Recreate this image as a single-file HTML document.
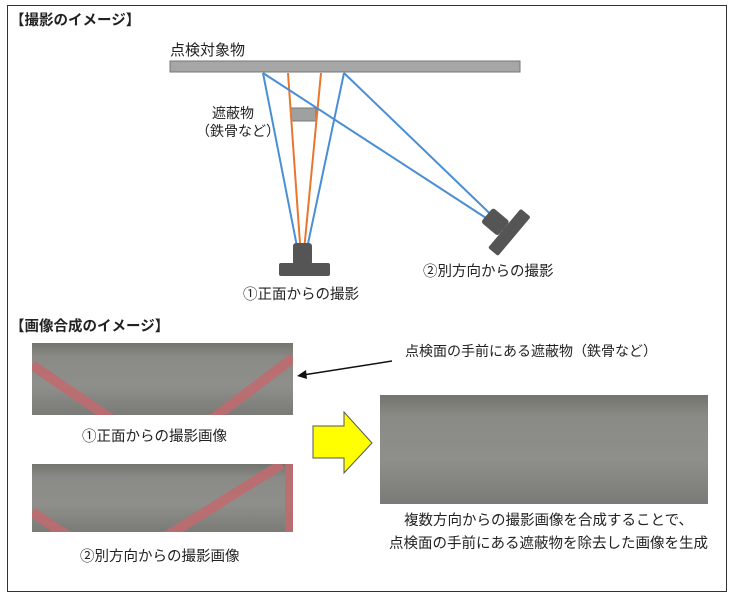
<!DOCTYPE html>
<html><head><meta charset="utf-8"><style>
body{margin:0;width:730px;height:597px;background:#fff;position:relative;overflow:hidden;font-family:"Liberation Sans","Noto Sans CJK JP",sans-serif;color:#222}
.t{position:absolute;white-space:nowrap;font-size:14px}
.ph{position:absolute;background:linear-gradient(180deg,#74746f 0%,#8a8a86 20%,#8e8e8a 60%,#7a7a76 100%);overflow:hidden}
</style></head><body>
<div style="position:absolute;left:7px;top:5px;width:718px;height:585px;border:1.5px solid #333"></div>
<div class="t" style="left:10px;top:9px;font-weight:bold;font-size:14.5px">【撮影のイメージ】</div>
<div class="t" style="left:170px;top:39px;font-size:15px">点検対象物</div>
<div class="t" style="left:212px;top:103px">遮蔽物</div>
<div class="t" style="left:196px;top:121px">（鉄骨など）</div>
<div class="t" style="left:243px;top:283px;font-size:14.5px">①正面からの撮影</div>
<div class="t" style="left:423px;top:260px;font-size:14.5px">②別方向からの撮影</div>
<svg style="position:absolute;left:0;top:0" width="730" height="320">
<rect x="170" y="61" width="350" height="11" fill="#a6a6a6" stroke="#777"/>
<rect x="291" y="108" width="25" height="13" fill="#a0a0a0" stroke="#777"/>
<g stroke-width="2" fill="none">
<line x1="288" y1="73" x2="302" y2="272" stroke="#e8772e"/>
<line x1="321" y1="73" x2="302" y2="272" stroke="#e8772e"/>
<line x1="263" y1="73" x2="302" y2="272" stroke="#4a8fd4"/>
<line x1="344" y1="73" x2="302" y2="272" stroke="#4a8fd4"/>
<line x1="263" y1="73" x2="506" y2="231" stroke="#4a8fd4"/>
<line x1="344" y1="73" x2="508" y2="231" stroke="#4a8fd4"/>
</g>
<rect x="293" y="243" width="19" height="22" rx="3" fill="#555"/>
<rect x="279" y="263" width="51" height="13" rx="2" fill="#555"/>
<g transform="translate(501,226) rotate(-50)">
<rect x="-10" y="-18" width="19" height="22" rx="3" fill="#555"/>
<rect x="-25" y="4" width="51" height="13" rx="2" fill="#555"/>
</g>
</svg>
<div class="t" style="left:10px;top:315px;font-weight:bold;font-size:14.5px">【画像合成のイメージ】</div>
<div class="t" style="left:405px;top:341px">点検面の手前にある遮蔽物（鉄骨など）</div>
<div class="ph" style="left:32px;top:343px;width:261px;height:72px">
<svg width="261" height="72" style="position:absolute;left:0;top:0"><g stroke="#c26a6f" stroke-width="10" opacity=".85"><line x1="0" y1="22" x2="85" y2="80"/><line x1="261" y1="15" x2="175" y2="80"/></g></svg></div>
<div class="t" style="left:82px;top:425px;font-size:14.5px">①正面からの撮影画像</div>
<div class="ph" style="left:32px;top:464px;width:261px;height:68px">
<svg width="261" height="68" style="position:absolute;left:0;top:0"><g stroke="#c26a6f" stroke-width="10" opacity=".85"><line x1="0" y1="48" x2="40" y2="75"/><line x1="250" y1="0" x2="130" y2="75"/><line x1="258" y1="0" x2="258" y2="68"/></g></svg></div>
<div class="t" style="left:80px;top:545px;font-size:14.5px">②別方向からの撮影画像</div>
<div class="ph" style="left:380px;top:395px;width:328px;height:109px"></div>
<div class="t" style="left:404px;top:509px;font-size:14.5px">複数方向からの撮影画像を合成することで、</div>
<div class="t" style="left:389px;top:532px;font-size:14.5px">点検面の手前にある遮蔽物を除去した画像を生成</div>
<svg style="position:absolute;left:0;top:0" width="730" height="597">
<line x1="392" y1="361" x2="303" y2="375" stroke="#111" stroke-width="1.5"/>
<polygon points="297,376 306,370 307,379" fill="#111"/>
<polygon points="313,426 344,426 344,412 372,443 344,473 344,458 313,458" fill="#ffff00" stroke="#555" stroke-width="1"/>
</svg>
</body></html>
